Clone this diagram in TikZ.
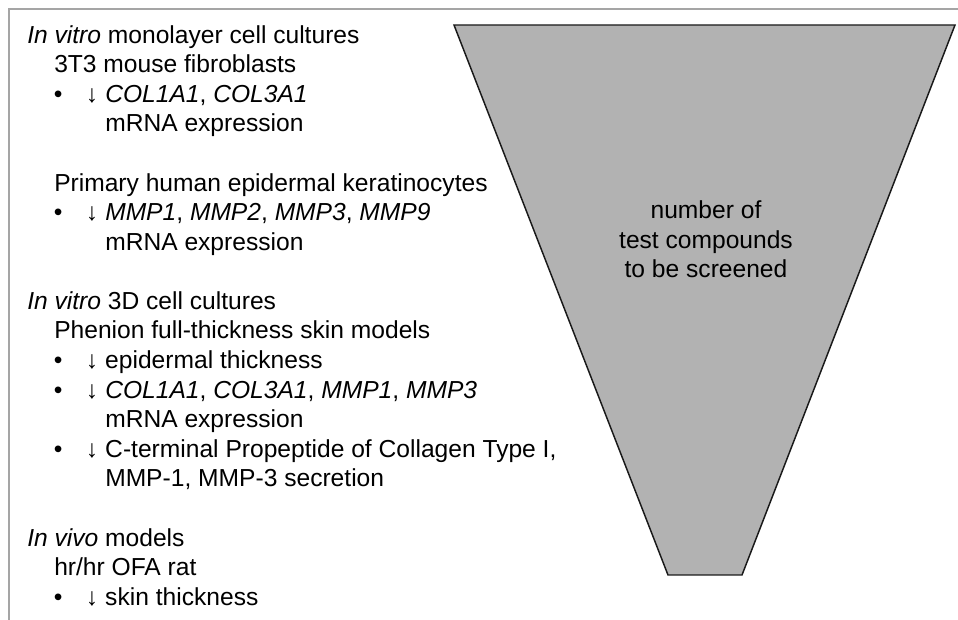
\documentclass[tikz,border=0pt]{standalone}
\usepackage{fontspec}
\setmainfont{Liberation Sans}
\usetikzlibrary{calc}

\definecolor{funnelgray}{RGB}{178,178,178}
\definecolor{framegray}{RGB}{165,165,165}

% indents of the list
\newcommand{\lvlB}{\hspace*{20.25pt}}
\newcommand{\itm}{\hspace*{20pt}\makebox[24pt][l]{•}\makebox[14.5pt][l]{↓}}
\newcommand{\cont}{\hspace*{58.5pt}}

\begin{document}
\begin{tikzpicture}[x=0.75pt,y=-0.75pt,
  list/.style={anchor=north west, inner sep=0pt, align=left, font=\fontsize{18.45}{22.19}\selectfont},
  count/.style={anchor=north, inner sep=0pt, align=center, font=\fontsize{18.45}{22.19}\selectfont},
  funnel/.style={fill=funnelgray, draw=black!90, line width=1.1pt, line join=miter},
  frame/.style={draw=framegray, line width=1.2pt}
  ]
  \useasboundingbox (0,0) rectangle (958,620);
  \draw[frame] (9,620) -- (9,9) -- (958,9);
  \filldraw[funnel] (454,25) -- (955,25) -- (742,575) -- (668,575) -- cycle;

  \node[list] (models) at (27,25) {
        \textit{In vitro} monolayer cell cultures\\
        \lvlB 3T3 mouse fibroblasts\\
        \itm \textit{COL1A1}, \textit{COL3A1}\\
        \cont mRNA expression\\
        \mbox{}\\
        \lvlB Primary human epidermal keratinocytes\\
        \itm \textit{MMP1}, \textit{MMP2}, \textit{MMP3}, \textit{MMP9}\\
        \cont mRNA expression\\
        \mbox{}\\
        \textit{In vitro} 3D cell cultures\\
        \lvlB Phenion full-thickness skin models\\
        \itm epidermal thickness\\
        \itm \textit{COL1A1}, \textit{COL3A1}, \textit{MMP1}, \textit{MMP3}\\
        \cont mRNA expression\\
        \itm C-terminal Propeptide of Collagen Type I,\\
        \cont MMP-1, MMP-3 secretion\\
        \mbox{}\\
        \textit{In vivo} models\\
        \lvlB hr/hr OFA rat\\
        \itm skin thickness
  };

  \node[count] (screen) at (706,200.4) {number of\\test compounds\\to be screened};
\end{tikzpicture}
\end{document}
